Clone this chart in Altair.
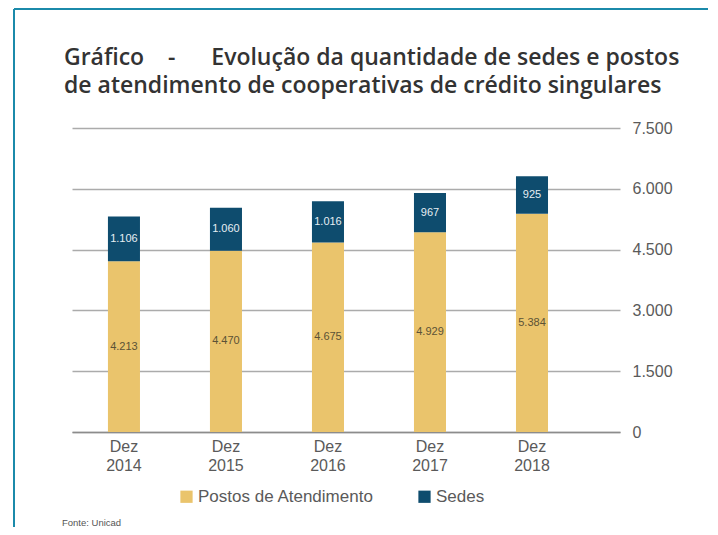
import altair as alt
import pandas as pd

periods = ["Dez 2014", "Dez 2015", "Dez 2016", "Dez 2017", "Dez 2018"]
postos = [4213, 4470, 4675, 4929, 5384]
sedes = [1106, 1060, 1016, 967, 925]
series = ["Postos de Atendimento", "Sedes"]
colors = ["#EAC46C", "#0E4C6E"]
label_colors = ["#5B5236", "#E6EEF3"]
y_ticks = [0, 1500, 3000, 4500, 6000, 7500]
title_lines = [
    "Gráfico\u00a0\u00a0\u00a0\u00a0-\u00a0\u00a0\u00a0\u00a0\u00a0 Evolução da quantidade de sedes e postos",
    "de atendimento de cooperativas de crédito singulares",
]
source_text = "Fonte: Unicad"

rows = []
for i, p in enumerate(periods):
    rows.append({"period": p, "series": series[0], "ord": 0, "value": postos[i]})
    rows.append({"period": p, "series": series[1], "ord": 1, "value": sedes[i]})
df = pd.DataFrame(rows)

W, H = 548, 304
FONT = "Liberation Sans"

xscale = alt.Scale(domain=periods, paddingInner=0.686, paddingOuter=0.529, align=0.333)
yscale = alt.Scale(domain=[0, 7500], nice=False)

base = alt.Chart(df).transform_stack(
    stack="value", as_=["y0", "y1"], groupby=["period"],
    sort=[alt.SortField("ord", order="ascending")]
).transform_calculate(
    mid="(datum.y0 + datum.y1) / 2",
    lbl="replace(format(datum.value, ','), ',', '.')"
)

bars = base.mark_bar().encode(
    x=alt.X("period:N", scale=xscale, sort=periods,
            axis=alt.Axis(title=None, labelExpr="split(datum.label, ' ')",
                          labelFont=FONT, labelFontSize=16, labelColor="#5a5a5a",
                          labelLineHeight=19, labelPadding=6, labelAngle=0,
                          ticks=False, domain=True, domainColor="#8c8c8c",
                          domainWidth=1.5, grid=False)),
    y=alt.Y("y0:Q", scale=yscale,
            axis=alt.Axis(title=None, orient="right", values=y_ticks,
                          labelExpr="replace(format(datum.value, ','), ',', '.')",
                          labelFont=FONT, labelFontSize=16, labelColor="#5a5a5a",
                          labelPadding=12, ticks=False, domain=False,
                          grid=True, gridColor="#ababab", gridWidth=1.5)),
    y2="y1:Q",
    color=alt.Color("series:N", scale=alt.Scale(domain=series, range=colors),
                    legend=alt.Legend(title=None, orient="none", direction="horizontal",
                                      legendX=106, legendY=360,
                                      symbolType="square", symbolSize=150,
                                      symbolStrokeWidth=0, labelFont=FONT,
                                      labelFontSize=17, labelColor="#5a5a5a",
                                      labelOffset=3, columnPadding=42,
                                      labelLimit=400)),
)

texts = base.mark_text(font=FONT, fontSize=11, baseline="middle").encode(
    x=alt.X("period:N", scale=xscale, sort=periods),
    y=alt.Y("mid:Q", scale=yscale),
    text="lbl:N",
    color=alt.Color("series:N", scale=alt.Scale(domain=series, range=label_colors), legend=None),
)

title = alt.Chart(pd.DataFrame({"t": ["\n".join(title_lines)]})).mark_text(
    font="Open Sans", fontSize=23, fontWeight=600, color="#333333",
    align="left", baseline="top", lineBreak="\n", lineHeight=28
).encode(x=alt.value(-8), y=alt.value(-81), text="t:N")

src = alt.Chart(pd.DataFrame({"t": [source_text]})).mark_text(
    font=FONT, fontSize=9.5, color="#555555", align="left", baseline="middle"
).encode(x=alt.value(-10), y=alt.value(H + 91), text="t:N")

border_top = alt.Chart(pd.DataFrame({"a": [0]})).mark_rule(
    color="#1B8AAA", strokeWidth=2
).encode(x=alt.value(-58), x2=alt.value(700), y=alt.value(-119))
border_left = alt.Chart(pd.DataFrame({"a": [0]})).mark_rule(
    color="#1B8AAA", strokeWidth=2
).encode(x=alt.value(-58), y=alt.value(-119), y2=alt.value(420))

chart = alt.layer(bars, texts, title, src, border_top, border_left).resolve_scale(
    color="independent"
).properties(
    width=W, height=H,
    background="white",
    autosize=alt.AutoSizeParams(type="none"),
    padding={"left": 64, "top": 120, "right": 88, "bottom": 95},
).configure_view(strokeWidth=0)

chart.save("out.html", embed_options={"renderer": "svg", "actions": False})
